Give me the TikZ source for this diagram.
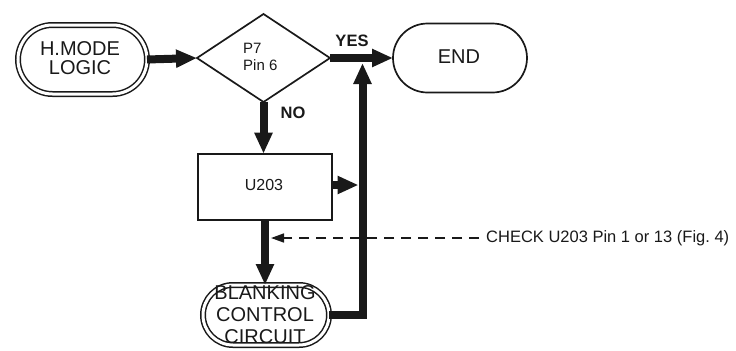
\documentclass[tikz,border=0pt]{standalone}
\usepackage{fontspec}
\setmainfont{Liberation Sans}
\usetikzlibrary{shapes.geometric,shapes.misc,arrows.meta}
\definecolor{ink}{gray}{0.1}
\begin{document}
\begin{tikzpicture}[x=1bp,y=-1bp,
  outline/.style={draw=ink, line width=1.7bp, inner sep=0pt, outer sep=0pt},
  stadium/.style={outline, rounded rectangle},
  dbl/.style={double, double distance=3bp, line width=1.5bp},
  flow/.style={draw=ink, line width=8bp, line join=miter, -{Triangle[length=21bp,width=17bp]}},
  txt/.style={inner sep=0pt, text=ink, align=center, font=\fontsize{20bp}{19bp}\selectfont},
  small/.style={inner sep=0pt, text=ink, font=\fontsize{16bp}{17bp}\selectfont},
  lbl/.style={inner sep=0pt, text=ink, font=\fontsize{16.5bp}{17bp}\selectfont\bfseries}
]
\useasboundingbox (0,0) rectangle (736,350);

% nodes
\node[stadium, dbl, minimum width=129bp, minimum height=69bp] (hmode) at (82.5,59.5) {};
\node[txt] (hmodetxt) at (80,58) {H.MODE\\LOGIC};

\node[outline, diamond, minimum width=133bp, minimum height=88bp] (dec) at (263.5,58) {};
\node[small, anchor=west, align=left, font=\fontsize{15bp}{17bp}\selectfont] (dectxt) at (243,57) {P7\\Pin 6};

\node[stadium, minimum width=134bp, minimum height=69bp] (endn) at (460,58) {};
\node[txt] (endtxt) at (459,57) {END};

\node[outline, rectangle, minimum width=134.6bp, minimum height=66.6bp] (u203) at (265,187) {};
\node[small] (u203txt) at (264,185) {U203};

\node[stadium, dbl, minimum width=126bp, minimum height=60bp] (blank) at (266,315) {};
\node[txt, font=\fontsize{20bp}{22bp}\selectfont] (blanktxt) at (265,315) {BLANKING\\CONTROL\\CIRCUIT};

\node[small, anchor=west, font=\fontsize{16.5bp}{17bp}\selectfont] (check) at (486,238) {CHECK U203 Pin 1 or 13 (Fig.~4)};

\node[lbl] (yes) at (352,41) {YES};
\node[lbl] (no) at (293,113) {NO};

% helper coordinates
\coordinate (join) at (362.5,63);
\coordinate (rjoin) at (358.5,185);
\coordinate (dstart) at (479,238);
\coordinate (dend) at (271,238);

% connectors
\draw[flow] (hmode.east) -- (dec.west);
\draw[flow] (dec.east) -- (endn.west);
\draw[flow] (dec.south) -- (dec.south |- u203.north);
\draw[flow] (u203.east |- rjoin) -- (rjoin);
\draw[flow] (u203.south) -- (u203.south |- blank.north);
\draw[flow] (blank.east) -| (join);
\draw[draw=ink, line width=1.6bp, dash pattern=on 10bp off 7bp, -{Triangle[length=13bp,width=9bp]}] (dstart) -- (dend);
\end{tikzpicture}
\end{document}
